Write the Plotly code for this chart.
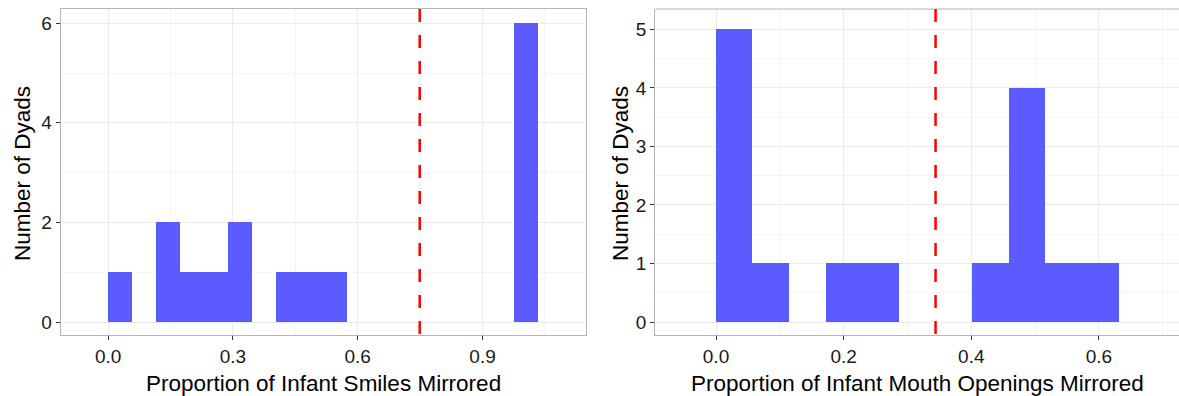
import plotly.graph_objects as go

# ---- data ----
bin_width = 0.0574
smiles_counts = [1, 0, 2, 1, 1, 2, 0, 1, 1, 1, 0, 0, 0, 0, 0, 0, 0, 6]
mouth_counts = [5, 1, 0, 1, 1, 0, 0, 1, 4, 1, 1]
smiles_cutoff = 0.749
mouth_cutoff = 0.344

left_ticks = [0.0, 0.3, 0.6, 0.9]
left_ticklabels = ["0.0", "0.3", "0.6", "0.9"]
right_ticks = [0.0, 0.2, 0.4, 0.6]
right_ticklabels = ["0.0", "0.2", "0.4", "0.6"]
left_yticks = [0, 2, 4, 6]
right_yticks = [0, 1, 2, 3, 4, 5]

x_title_left = "Proportion of Infant Smiles Mirrored"
x_title_right = "Proportion of Infant Mouth Openings Mirrored"
y_title = "Number of Dyads"

BAR = "#5b5bff"
FONT = "Liberation Sans, Arial, sans-serif"

def centers(counts):
    return [(i + 0.5) * bin_width for i in range(len(counts))]

fig = go.Figure()
fig.add_trace(go.Bar(x=centers(smiles_counts), y=smiles_counts, width=bin_width,
                     marker=dict(color=BAR, line=dict(width=0)),
                     xaxis="x", yaxis="y", showlegend=False))
fig.add_trace(go.Bar(x=centers(mouth_counts), y=mouth_counts, width=bin_width,
                     marker=dict(color=BAR, line=dict(width=0)),
                     xaxis="x2", yaxis="y2", showlegend=False))

W, H = 1179, 396
ydom = [1 - 335.3 / H, 1 - 9 / H]

common_axis = dict(
    showgrid=True, gridcolor="#ebebeb", gridwidth=1,
    zeroline=False, showline=True, linecolor="#b5b5b5", linewidth=1.2,
    ticks="outside", ticklen=4, tickwidth=1, tickcolor="#333333",
    tickfont=dict(family=FONT, size=19, color="#1a1a1a"),
    fixedrange=True,
)

fig.update_layout(
    width=W, height=H, margin=dict(l=0, r=0, t=0, b=0),
    paper_bgcolor="white", plot_bgcolor="white",
    bargap=0,
    xaxis=dict(domain=[60.7 / W, 585.7 / W], range=[-0.114, 1.148],
               tickvals=left_ticks, ticktext=left_ticklabels, mirror=True,
               minor=dict(tickvals=[0.15, 0.45, 0.75, 1.05], showgrid=True,
                          gridcolor="#f5f5f5", ticks=""),
               anchor="y", **common_axis),
    yaxis=dict(domain=ydom, range=[-0.267, 6.285],
               tickvals=left_yticks, ticktext=[str(v) for v in left_yticks], mirror=True,
               minor=dict(tickvals=[1, 3, 5], showgrid=True,
                          gridcolor="#f5f5f5", ticks=""),
               anchor="x", **common_axis),
    xaxis2=dict(domain=[655.3 / W, 1.0], range=[-0.0951, 0.7254],
                tickvals=right_ticks, ticktext=right_ticklabels, mirror=False,
                minor=dict(tickvals=[0.1, 0.3, 0.5, 0.7], showgrid=True,
                           gridcolor="#f5f5f5", ticks=""),
                anchor="y2", **common_axis),
    yaxis2=dict(domain=ydom, range=[-0.227, 5.348],
                tickvals=right_yticks, ticktext=[str(v) for v in right_yticks], mirror=False,
                minor=dict(tickvals=[0.5, 1.5, 2.5, 3.5, 4.5], showgrid=True,
                           gridcolor="#f5f5f5", ticks=""),
                anchor="x2", **common_axis),
)

# top border of right panel (right side is cut off in the reference)
fig.add_shape(type="line", xref="x2 domain", yref="y2 domain",
              x0=0, x1=1, y0=1, y1=1, line=dict(color="#b5b5b5", width=1.2))

# dashed cutoff lines
for xr, yr, xv in [("x", "y domain", smiles_cutoff), ("x2", "y2 domain", mouth_cutoff)]:
    fig.add_shape(type="line", xref=xr, yref=yr, x0=xv, x1=xv, y0=1, y1=0,
                  line=dict(color="#ff0000", width=2.5, dash="13px,13px"))

# axis titles
title_font = dict(family=FONT, size=22.5, color="#000000")
fig.add_annotation(text=x_title_left, xref="paper", yref="paper",
                   x=323 / W, y=1 - 383 / H, showarrow=False, font=title_font,
                   xanchor="center", yanchor="middle")
fig.add_annotation(text=x_title_right, xref="paper", yref="paper",
                   x=917 / W, y=1 - 383 / H, showarrow=False, font=title_font,
                   xanchor="center", yanchor="middle")
fig.add_annotation(text=y_title, xref="paper", yref="paper",
                   x=22 / W, y=1 - 174 / H, showarrow=False, font=title_font,
                   textangle=-90, xanchor="center", yanchor="middle")
fig.add_annotation(text=y_title, xref="paper", yref="paper",
                   x=620 / W, y=1 - 174 / H, showarrow=False, font=title_font,
                   textangle=-90, xanchor="center", yanchor="middle")

fig.write_html("out.html")
